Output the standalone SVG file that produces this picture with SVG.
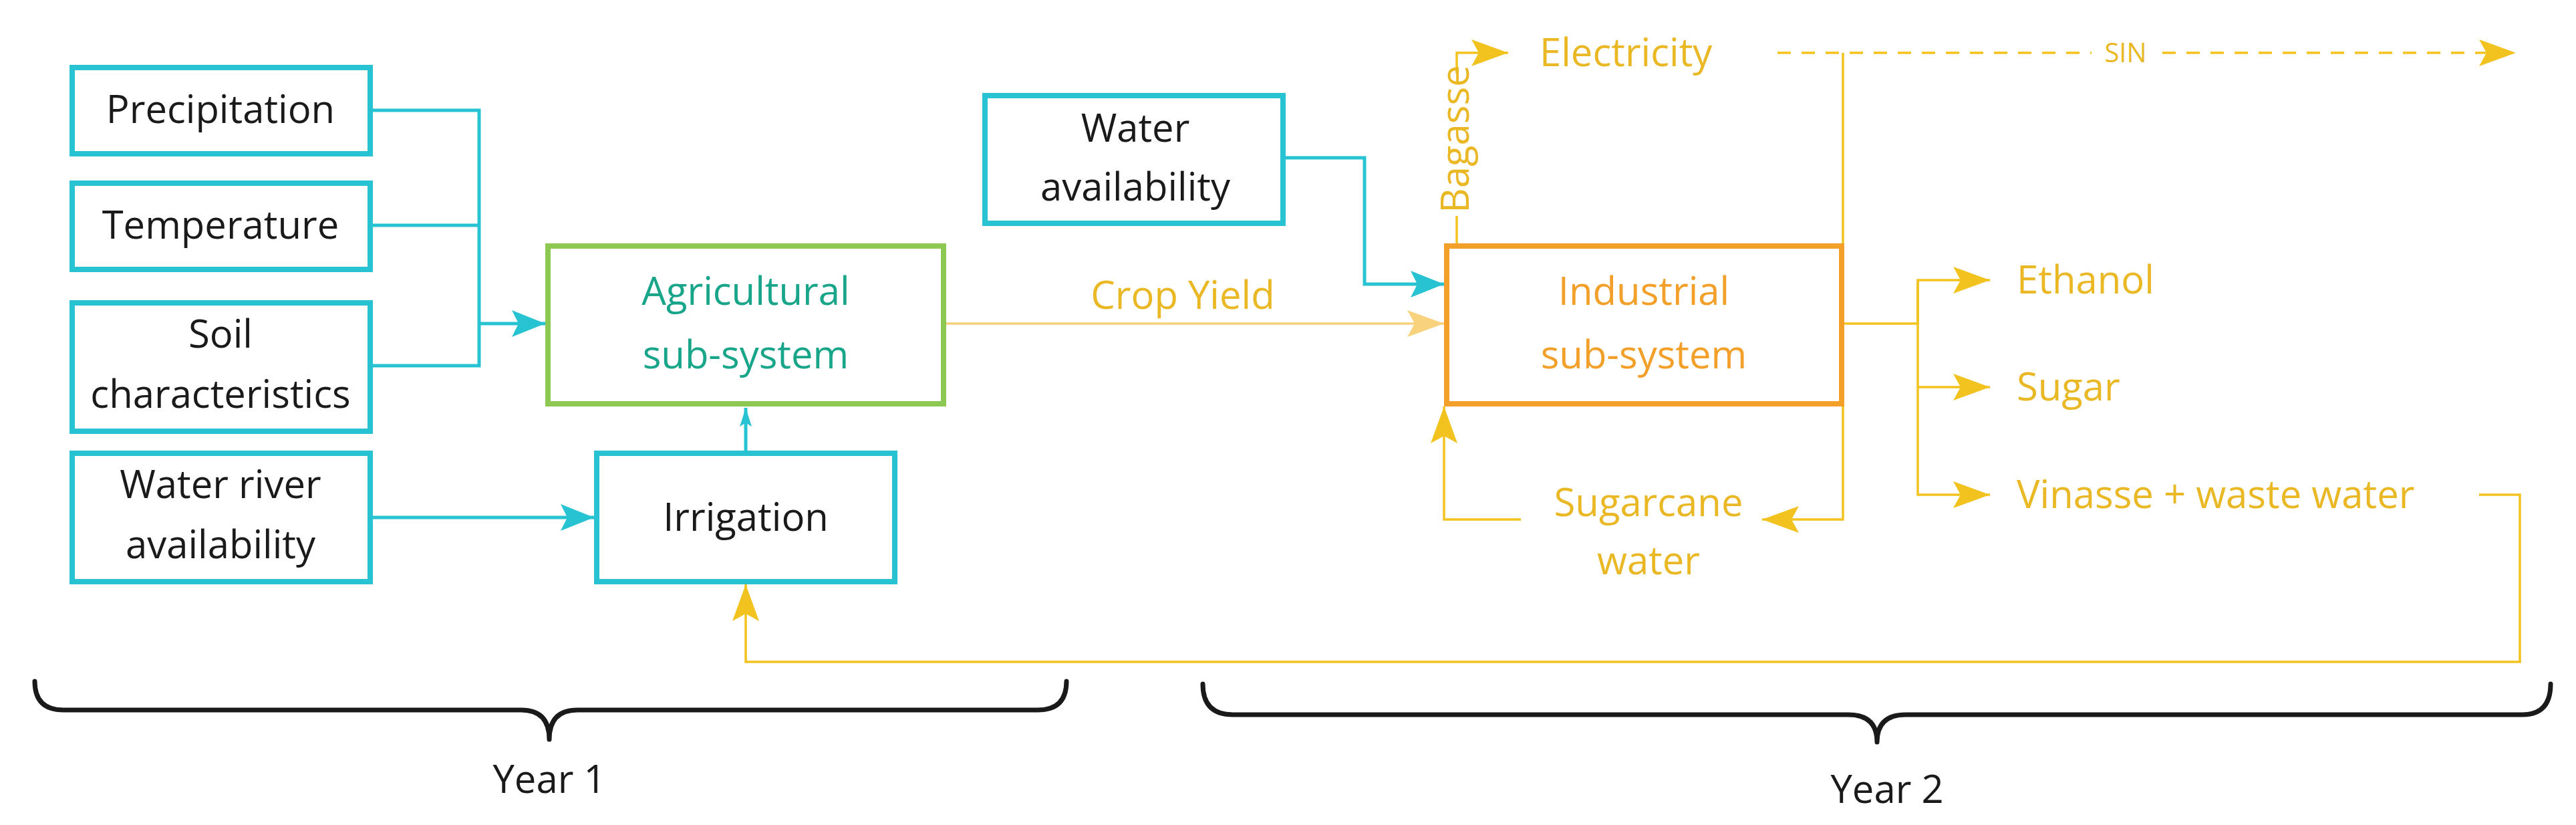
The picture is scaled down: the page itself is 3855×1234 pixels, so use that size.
<svg xmlns="http://www.w3.org/2000/svg" width="3855" height="1234" viewBox="0 0 3855 1234">
<style>
.b{fill:#fff;stroke:#27C3D2;stroke-width:8}
.t{font-family:"Open Sans","Liberation Sans",sans-serif;font-size:58px;text-anchor:middle;fill:#1a1a1a}
.y{font-family:"Open Sans","Liberation Sans",sans-serif;font-size:58px;fill:#E9B824}
.c{fill:none;stroke:#27C3D2;stroke-width:5}
.g{fill:none;stroke:#F2C21E;stroke-width:3.5}
.k{fill:none;stroke:#1a1a1a;stroke-width:7;stroke-linecap:round;stroke-linejoin:round}
</style>
<defs>
<marker id="ac" viewBox="0 0 10 10" refX="10" refY="5" markerWidth="50" markerHeight="40" markerUnits="userSpaceOnUse" orient="auto" preserveAspectRatio="none"><path d="M0,0L10,5L0,10L2,5z" fill="#27C3D2"/></marker>
<marker id="ac2" viewBox="0 0 10 10" refX="10" refY="5" markerWidth="28" markerHeight="18" markerUnits="userSpaceOnUse" orient="auto" preserveAspectRatio="none"><path d="M0,0L10,5L0,10L2,5z" fill="#27C3D2"/></marker>
<marker id="ay" viewBox="0 0 10 10" refX="10" refY="5" markerWidth="55" markerHeight="40" markerUnits="userSpaceOnUse" orient="auto" preserveAspectRatio="none"><path d="M0,0L10,5L0,10L2,5z" fill="#F2C21E"/></marker>
<marker id="al" viewBox="0 0 10 10" refX="10" refY="5" markerWidth="55" markerHeight="40" markerUnits="userSpaceOnUse" orient="auto" preserveAspectRatio="none"><path d="M0,0L10,5L0,10L2,5z" fill="#F9D27E"/></marker>
</defs>
<g id="connectors">
<path class="c" d="M554,165H717V547H554M554,337H717M717,484H816" marker-end="url(#ac)"/>
<path class="c" d="M554,774H889" marker-end="url(#ac)"/>
<path class="c" d="M1116,674V610" stroke-width="3" marker-end="url(#ac2)"/>
<path class="c" d="M1920,236H2042V425H2161" marker-end="url(#ac)"/>
<path d="M1412,484H2161" fill="none" stroke="#F9D27E" stroke-width="3.5" marker-end="url(#al)"/>
<path class="g" d="M2180,368V323M2180,110V79H2257" marker-end="url(#ay)"/>
<path class="g" d="M2660,79H3765" stroke-dasharray="20 16" marker-end="url(#ay)"/>
<path class="g" d="M2758,364V79" stroke-width="2"/>
<path class="g" d="M2760,484H2870V419H2978" marker-end="url(#ay)"/>
<path class="g" d="M2870,419V740H2978" marker-end="url(#ay)"/>
<path class="g" d="M2870,579H2978" marker-end="url(#ay)"/>
<path class="g" d="M2758,604V777H2637" marker-end="url(#ay)"/>
<path class="g" d="M2276,777H2161V608" marker-end="url(#ay)"/>
<path class="g" d="M3710,740H3771V990H1116V874" marker-end="url(#ay)"/>
<rect x="3130" y="55" width="102" height="44" fill="#fff"/>
<text x="3181" y="93" font-family="Open Sans,Liberation Sans,sans-serif" font-size="40" fill="#E9B824" text-anchor="middle">SIN</text>
<text class="y" x="1770" y="462" text-anchor="middle">Crop Yield</text>
<text class="y" transform="translate(2198,208) rotate(-90)" text-anchor="middle" font-size="48">Bagasse</text>
</g>
<g id="precipitation"><rect class="b" x="108" y="101" width="446" height="129"/><text class="t" x="330" y="184">Precipitation</text></g>
<g id="temperature"><rect class="b" x="108" y="274" width="446" height="129"/><text class="t" x="330" y="357">Temperature</text></g>
<g id="soil"><rect class="b" x="108" y="453" width="446" height="192"/><text class="t" x="330" y="520">Soil</text><text class="t" x="330" y="610">characteristics</text></g>
<g id="waterriver"><rect class="b" x="108" y="678" width="446" height="192"/><text class="t" x="330" y="745">Water river</text><text class="t" x="330" y="835">availability</text></g>
<g id="agricultural"><rect x="820" y="368" width="592" height="236" fill="#fff" stroke="#8DC853" stroke-width="8"/><text class="t" x="1116" y="456" style="fill:#18A58A">Agricultural</text><text class="t" x="1116" y="551" style="fill:#18A58A">sub-system</text></g>
<g id="irrigation"><rect class="b" x="893" y="678" width="446" height="192"/><text class="t" x="1116" y="794">Irrigation</text></g>
<g id="wateravail"><rect class="b" x="1474" y="143" width="446" height="191"/><text class="t" x="1699" y="212">Water</text><text class="t" x="1699" y="300">availability</text></g>
<g id="industrial"><rect x="2165" y="368" width="591" height="236" fill="#fff" stroke="#F2A02A" stroke-width="8"/><text class="t" x="2460" y="456" style="fill:#F2A02A">Industrial</text><text class="t" x="2460" y="551" style="fill:#F2A02A">sub-system</text></g>
<g id="electricity"><text class="y" x="2304" y="99">Electricity</text></g>
<g id="ethanol"><text class="y" x="3018" y="439">Ethanol</text></g>
<g id="sugar"><text class="y" x="3018" y="599">Sugar</text></g>
<g id="vinasse"><text class="y" x="3018" y="760">Vinasse + waste water</text></g>
<g id="sugarcane"><text class="y" x="2467" y="772" text-anchor="middle">Sugarcane</text><text class="y" x="2467" y="859" text-anchor="middle">water</text></g>
<g id="year1"><path class="k" d="M52,1019Q52,1062 95,1062H780Q822,1062 822,1106Q822,1062 864,1062H1553Q1596,1062 1596,1019"/><text class="t" x="822" y="1186">Year 1</text></g>
<g id="year2"><path class="k" d="M1800,1023Q1800,1069 1845,1069H2766Q2809,1069 2809,1110Q2809,1069 2852,1069H3775Q3817,1069 3817,1023"/><text class="t" x="2824" y="1201">Year 2</text></g>
</svg>
